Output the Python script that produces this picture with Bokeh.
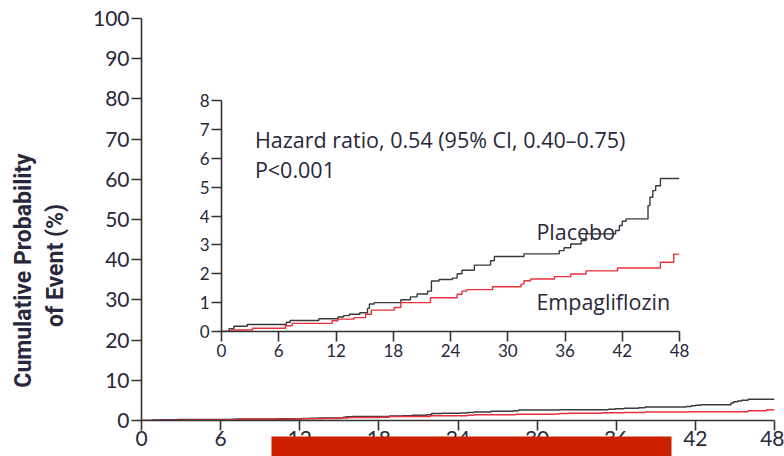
from bokeh.plotting import figure
from bokeh.models import Range1d, Label, BoxAnnotation, FixedTicker
from bokeh.embed import file_html
from bokeh.resources import INLINE

# ---- data (months, cumulative %) ----
placebo_t = [0, 0.8, 1.3, 2.7, 6.8, 7.2, 10.2, 12.2, 12.8, 13.4, 14.5, 15.3, 15.5, 16.0,
             18.8, 19.8, 20.5, 21.6, 22.0, 22.8, 24.2, 24.7, 25.2, 26.5, 28.2, 28.6,
             31.7, 35.4, 35.9, 36.6, 37.7, 38.2, 41.3, 41.7, 42.0, 42.4, 44.7, 44.9,
             45.2, 45.5, 46.0, 48]
placebo_v = [0, 0.10, 0.18, 0.24, 0.32, 0.38, 0.44, 0.50, 0.55, 0.60, 0.65, 0.80, 0.95, 1.00,
             1.10, 1.20, 1.30, 1.40, 1.75, 1.80, 1.85, 2.00, 2.12, 2.30, 2.45, 2.60,
             2.69, 2.80, 2.90, 3.03, 3.15, 3.38, 3.50, 3.67, 3.82, 3.90, 4.36, 4.65,
             4.88, 5.05, 5.30, 5.30]
empa_t = [0, 1.0, 3.25, 6.7, 7.4, 11.6, 12.2, 13.9, 15.1, 15.7, 18.1, 18.8, 21.9, 24.7,
          25.2, 25.7, 28.4, 31.4, 31.7, 32.4, 34.9, 36.6, 38.2, 41.5, 46.0, 47.4, 48]
empa_v = [0, 0.05, 0.11, 0.20, 0.28, 0.37, 0.43, 0.48, 0.60, 0.74, 0.83, 1.00, 1.17, 1.29,
          1.40, 1.45, 1.55, 1.64, 1.76, 1.82, 1.90, 1.99, 2.10, 2.20, 2.40, 2.68, 2.68]

x_ticks = [0, 6, 12, 18, 24, 30, 36, 42, 48]
main_y_ticks = [0, 10, 20, 30, 40, 50, 60, 70, 80, 90, 100]
inset_y_ticks = [0, 1, 2, 3, 4, 5, 6, 7, 8]

BLACK = "#3a3a3a"
RED = "#e8303c"
TEXT = "#28283a"
TICK_FONT = "Lato"
NOTE_FONT = "Open Sans"


def style_axes(fig, size, tick_out, standoff):
    for ax in (fig.xaxis, fig.yaxis):
        ax.axis_line_color = "#333333"
        ax.axis_line_width = 1.6
        ax.major_tick_line_color = "#333333"
        ax.major_tick_line_width = 1.6
        ax.major_tick_in = 0
        ax.major_tick_out = tick_out
        ax.major_label_standoff = standoff
        ax.minor_tick_line_color = None
        ax.major_label_text_font = TICK_FONT
        ax.major_label_text_font_size = size
        ax.major_label_text_color = TEXT


# ---- main figure ----
p = figure(width=776, height=456, x_range=Range1d(0, 48), y_range=Range1d(0, 100),
           output_backend="svg", toolbar_location=None, name="main",
           min_border_left=133, min_border_right=10, min_border_top=18, min_border_bottom=36)
p.outline_line_color = None
p.grid.grid_line_color = None
style_axes(p, "21px", 10, 2)
p.xaxis.major_label_standoff = 0
p.xaxis.ticker = FixedTicker(ticks=x_ticks)
p.yaxis.ticker = FixedTicker(ticks=main_y_ticks)

p.step(placebo_t, placebo_v, mode="after", line_color=BLACK, line_width=1.5)
p.step(empa_t, empa_v, mode="after", line_color=RED, line_width=1.5)

# ---- inset figure ----
inset = figure(width=498, height=281, x_range=Range1d(0, 48), y_range=Range1d(0, 8),
               output_backend="svg", toolbar_location=None, name="inset",
               min_border_left=30, min_border_right=10, min_border_top=10, min_border_bottom=40)
inset.outline_line_color = None
inset.grid.grid_line_color = None
inset.background_fill_alpha = 0
inset.border_fill_alpha = 0
style_axes(inset, "17px", 10, 2)
inset.xaxis.ticker = FixedTicker(ticks=x_ticks)
inset.yaxis.ticker = FixedTicker(ticks=inset_y_ticks)

inset.step(placebo_t, placebo_v, mode="after", line_color=BLACK, line_width=1.4)
inset.step(empa_t, empa_v, mode="after", line_color=RED, line_width=1.4)

for txt, x, y in [("Hazard ratio, 0.54 (95% CI, 0.40\u20130.75)", 3.5, 6.66),
                  ("P<0.001", 3.5, 5.62),
                  ("Placebo", 33.0, 3.47),
                  ("Empagliflozin", 33.0, 1.03)]:
    inset.add_layout(Label(x=x, y=y, text=txt, text_font=NOTE_FONT, text_font_size="21.5px",
                           text_color=TEXT, text_baseline="alphabetic", text_align="left"))

# ---- transparent overlay: y-axis title and the red band ----
ov = figure(width=776, height=448, x_range=Range1d(0, 776), y_range=Range1d(0, 448),
            x_axis_type=None, y_axis_type=None, output_backend="svg",
            toolbar_location=None, name="overlay",
            min_border_left=0, min_border_right=0, min_border_top=0, min_border_bottom=0)
ov.outline_line_color = None
ov.grid.grid_line_color = None
ov.background_fill_alpha = 0
ov.border_fill_alpha = 0
ov.add_layout(Label(x=15, y=186, text="Cumulative Probability", angle=1.5708,
                    text_align="center", text_baseline="middle", text_font="Roboto",
                    text_font_style="bold", text_font_size="23px", text_color=TEXT))
ov.add_layout(Label(x=47, y=191, text="of Event (%)", angle=1.5708,
                    text_align="center", text_baseline="middle", text_font="Roboto",
                    text_font_style="bold", text_font_size="23px", text_color=TEXT))
ov.add_layout(BoxAnnotation(left=263, right=663, bottom=-5, top=20,
                            fill_color="#cc1f00", fill_alpha=1.0, line_color=None))

TEMPLATE = """
{% block contents %}
<div style="position:absolute;left:8px;top:8px;width:776px;height:448px;">
  <div style="position:absolute;left:0px;top:-8px;">{{ embed(roots.main) }}</div>
  <div style="position:absolute;left:183px;top:82px;">{{ embed(roots.inset) }}</div>
  <div style="position:absolute;left:0px;top:0px;">{{ embed(roots.overlay) }}</div>
</div>
{% endblock %}
"""

open("out.html", "w").write(file_html([p, inset, ov], INLINE, template=TEMPLATE))
